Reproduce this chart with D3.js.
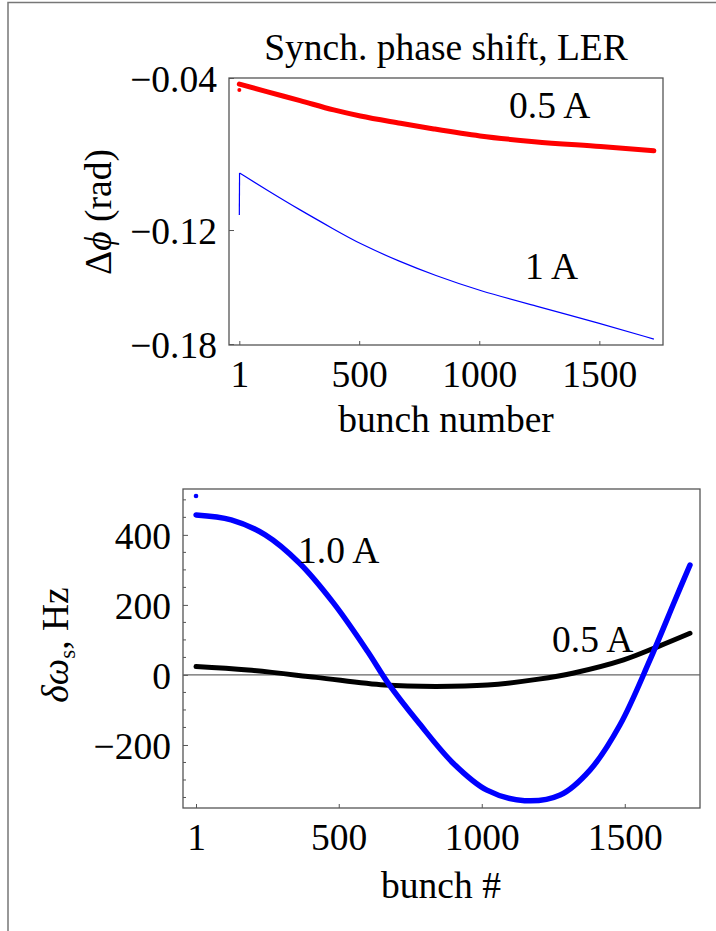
<!DOCTYPE html>
<html>
<head>
<meta charset="utf-8">
<script src="https://cdn.jsdelivr.net/npm/d3@7"></script>
<style>
  body { margin: 0; background: #fff; }
  text { font-family: "Liberation Serif", "DejaVu Serif", serif; fill: #000; }
</style>
</head>
<body>
<div id="chart"></div>
<script>
"use strict";

// ---- top panel: synchronous phase shift vs bunch number ----
const topBunch = [1, 115, 254, 394, 505, 672, 811, 1003, 1229, 1505, 1727];
const phaseHalfA = [-0.0432, -0.0472, -0.0519, -0.0568, -0.0600, -0.0638, -0.0668, -0.0705, -0.0735, -0.0761, -0.0783];
const phaseHalfAFirst = [1, -0.0463];
const topBunchOneA = [2, 115, 254, 394, 505, 672, 811, 1003, 1229, 1505, 1727];
const phaseOneA = [-0.0900, -0.0989, -0.1095, -0.1195, -0.1274, -0.1368, -0.1437, -0.1521, -0.1597, -0.1692, -0.1774];
const phaseOneAFirst = [1, -0.1121];
const topXTicks = [1, 500, 1000, 1500];
const topYTicks = [-0.04, -0.12, -0.18];

// ---- bottom panel: synchrotron frequency shift vs bunch ----
const botBunchOneA = [1, 124, 243, 363, 482, 601, 673, 781, 900, 1018, 1150, 1274, 1379, 1483, 1588, 1676, 1728];
const freqOneA = [457, 443, 400, 319, 205, 67, -24, -138, -252, -329, -359, -343, -271, -143, 43, 214, 314];
const freqOneAFirst = [1, 511];
const botBunchHalfA = [1, 183, 421, 660, 840, 1020, 1199, 1318, 1496, 1616, 1728];
const freqHalfA = [24, 14, -7, -29, -33, -29, -12, 5, 43, 81, 119];
const botXTicks = [1, 500, 1000, 1500];
const botYTicks = [-200, 0, 200, 400];
const botYMinor = [-350, -300, -250, -150, -100, -50, 50, 100, 150, 250, 300, 350, 450, 500];

const W = 716, H = 931;
const fontSize = 37.5;
const frameColor = "#555";

const svg = d3.select("#chart").append("svg")
    .attr("width", W)
    .attr("height", H);

// page border (top and left edges)
svg.append("path")
    .attr("d", `M8,${H} L8,2.5 L${W},2.5`)
    .attr("fill", "none")
    .attr("stroke", "#777")
    .attr("stroke-width", 1.5);

const fmtMinus = d => (d < 0 ? "\u2212" : "") + Math.abs(d);

function drawFrame(x, y, xTicks, yTicks, yFmt) {
    const [x0, x1] = x.range();
    const [y0, y1] = y.range();

    svg.append("rect")
        .attr("x", x0).attr("y", y1)
        .attr("width", x1 - x0).attr("height", y0 - y1)
        .attr("fill", "none")
        .attr("stroke", frameColor)
        .attr("stroke-width", 1.3);

    // bottom axis, ticks pointing into the frame
    const gx = svg.append("g")
        .attr("transform", `translate(0,${y0})`)
        .call(d3.axisBottom(x).tickValues(xTicks).tickSizeInner(-4).tickSizeOuter(0).tickPadding(0).tickFormat(d3.format("d")));
    gx.select(".domain").remove();
    gx.selectAll(".tick line").attr("stroke", frameColor).attr("stroke-width", 1);
    gx.selectAll(".tick text")
        .attr("y", 42)
        .attr("dy", null)
        .style("font-size", fontSize + "px")
        .style("font-family", '"Liberation Serif", serif')
        .attr("fill", "#000");

    const gy = svg.append("g")
        .attr("transform", `translate(${x0},0)`)
        .call(d3.axisLeft(y).tickValues(yTicks).tickSizeInner(-5).tickSizeOuter(0).tickPadding(0).tickFormat(yFmt));
    gy.select(".domain").remove();
    gy.selectAll(".tick line").attr("stroke", frameColor).attr("stroke-width", 1);
    gy.selectAll(".tick text")
        .attr("x", -12)
        .attr("dy", "0.36em")
        .style("font-size", fontSize + "px")
        .style("font-family", '"Liberation Serif", serif')
        .attr("fill", "#000");
    return { gx, gy };
}

const lineGen = (x, y, curve) => d3.line()
    .x(d => x(d[0]))
    .y(d => y(d[1]))
    .curve(curve);

// ================= top panel =================
const xTop = d3.scaleLinear().domain([-42, 1765]).range([229, 663]);
const yTop = d3.scaleLinear().domain([-0.1805, -0.04]).range([345, 78]);

drawFrame(xTop, yTop, topXTicks, topYTicks, fmtMinus);

svg.append("path")
    .datum(d3.zip(topBunch, phaseHalfA))
    .attr("d", lineGen(xTop, yTop, d3.curveMonotoneX))
    .attr("fill", "none")
    .attr("stroke", "#f00")
    .attr("stroke-width", 5)
    .attr("stroke-linecap", "round");

svg.append("circle")
    .attr("cx", xTop(phaseHalfAFirst[0]))
    .attr("cy", yTop(phaseHalfAFirst[1]))
    .attr("r", 2)
    .attr("fill", "#f00");

// first bunch jump, then the smooth decay
svg.append("path")
    .datum([phaseOneAFirst, [topBunchOneA[0], phaseOneA[0]]])
    .attr("d", lineGen(xTop, yTop, d3.curveLinear))
    .attr("fill", "none")
    .attr("stroke", "#00f")
    .attr("stroke-width", 1.2);

svg.append("path")
    .datum(d3.zip(topBunchOneA, phaseOneA))
    .attr("d", lineGen(xTop, yTop, d3.curveBasis))
    .attr("fill", "none")
    .attr("stroke", "#00f")
    .attr("stroke-width", 1.2);

svg.append("text")
    .attr("x", 446).attr("y", 60)
    .attr("text-anchor", "middle")
    .style("font-size", fontSize + "px")
    .text("Synch. phase shift, LER");

svg.append("text")
    .attr("x", 509).attr("y", 118)
    .style("font-size", fontSize + "px")
    .text("0.5 A");

svg.append("text")
    .attr("x", 525).attr("y", 279)
    .style("font-size", fontSize + "px")
    .text("1 A");

svg.append("text")
    .attr("x", 446).attr("y", 432)
    .attr("text-anchor", "middle")
    .style("font-size", fontSize + "px")
    .text("bunch number");

const topYLabel = svg.append("text")
    .attr("transform", "translate(111,212) rotate(-90)")
    .attr("text-anchor", "middle")
    .style("font-size", fontSize + "px");
topYLabel.append("tspan").text("\u0394");
topYLabel.append("tspan").style("font-style", "italic").text("\u03d5");
topYLabel.append("tspan").text(" (rad)");

// ================= bottom panel =================
const xBot = d3.scaleLinear().domain([-44.5, 1763]).range([183, 700]);
const yBot = d3.scaleLinear().domain([-380, 531]).range([808, 489]);

drawFrame(xBot, yBot, botXTicks, botYTicks, fmtMinus);

// minor y ticks
svg.append("g").selectAll("line")
    .data(botYMinor)
    .join("line")
    .attr("x1", xBot.range()[0]).attr("x2", xBot.range()[0] + 3)
    .attr("y1", d => yBot(d)).attr("y2", d => yBot(d))
    .attr("stroke", frameColor)
    .attr("stroke-width", 1);

// zero line
svg.append("line")
    .attr("x1", xBot.range()[0]).attr("x2", xBot.range()[1])
    .attr("y1", yBot(0)).attr("y2", yBot(0))
    .attr("stroke", "#666")
    .attr("stroke-width", 1.3);

svg.append("path")
    .datum(d3.zip(botBunchHalfA, freqHalfA))
    .attr("d", lineGen(xBot, yBot, d3.curveCatmullRom))
    .attr("fill", "none")
    .attr("stroke", "#000")
    .attr("stroke-width", 5)
    .attr("stroke-linecap", "round");

svg.append("path")
    .datum(d3.zip(botBunchOneA, freqOneA))
    .attr("d", lineGen(xBot, yBot, d3.curveCatmullRom))
    .attr("fill", "none")
    .attr("stroke", "#00f")
    .attr("stroke-width", 5.5)
    .attr("stroke-linecap", "round");

svg.append("circle")
    .attr("cx", xBot(freqOneAFirst[0]))
    .attr("cy", yBot(freqOneAFirst[1]))
    .attr("r", 2.3)
    .attr("fill", "#00f");

svg.append("text")
    .attr("x", 298).attr("y", 563)
    .style("font-size", fontSize + "px")
    .text("1.0 A");

svg.append("text")
    .attr("x", 552).attr("y", 652)
    .style("font-size", fontSize + "px")
    .text("0.5 A");

svg.append("text")
    .attr("x", 441).attr("y", 898)
    .attr("text-anchor", "middle")
    .style("font-size", fontSize + "px")
    .text("bunch #");

const botYLabel = svg.append("text")
    .attr("transform", "translate(68,645) rotate(-90)")
    .attr("text-anchor", "middle")
    .style("font-size", fontSize + "px");
botYLabel.append("tspan").style("font-style", "italic").text("\u03b4\u03c9");
botYLabel.append("tspan").attr("dy", 7).style("font-size", "23px").text("s");
botYLabel.append("tspan").attr("dy", -7).text(", Hz");
</script>
</body>
</html>
